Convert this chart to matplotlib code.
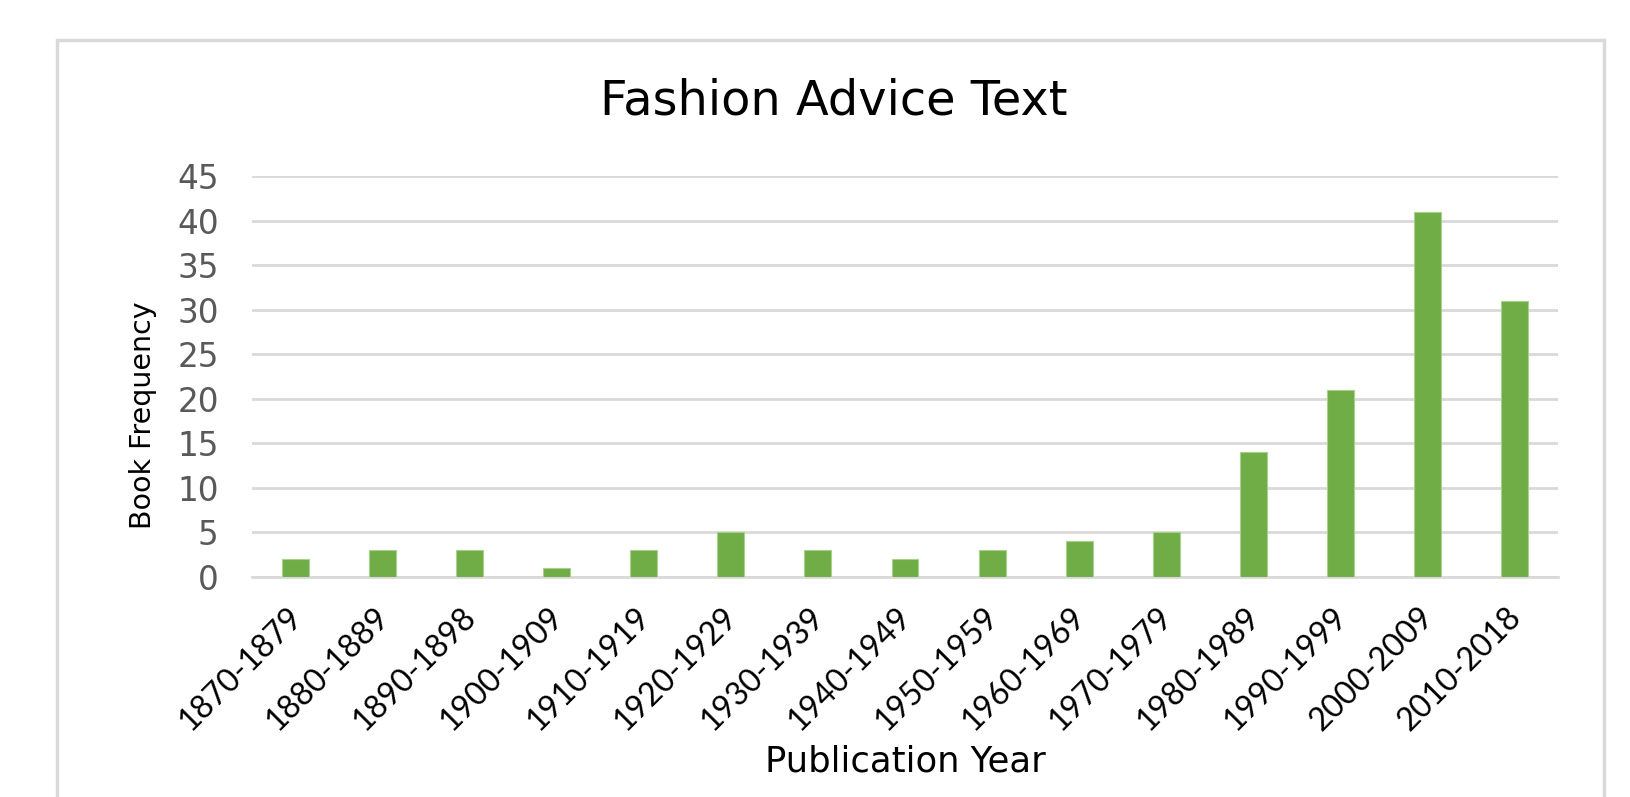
import matplotlib
matplotlib.use("Agg")
import matplotlib.pyplot as plt
from matplotlib.patches import Rectangle
from matplotlib.transforms import ScaledTranslation

categories = ["1870-1879", "1880-1889", "1890-1898", "1900-1909", "1910-1919",
              "1920-1929", "1930-1939", "1940-1949", "1950-1959", "1960-1969",
              "1970-1979", "1980-1989", "1990-1999", "2000-2009", "2010-2018"]
values = [2, 3, 3, 1, 3, 5, 3, 2, 3, 4, 5, 14, 21, 41, 31]
yticks = [0, 5, 10, 15, 20, 25, 30, 35, 40, 45]

W, H = 1631, 797
fig = plt.figure(figsize=(W / 100, H / 100), dpi=100)
fig.patch.set_facecolor("white")

# outer chart border
fig.patches.append(Rectangle((57 / W, -0.05), (1604 - 57) / W, 1.05 - 40 / H,
                             transform=fig.transFigure, fill=False,
                             edgecolor="#d9d9d9", linewidth=2.5))

ax = fig.add_axes([252 / W, 1 - 577 / H, (1558 - 252) / W, (577 - 176) / H])
x = list(range(len(categories)))
ax.bar(x, values, width=0.31, color="#70AD47", edgecolor="#A9D18E",
       linewidth=0.8, zorder=3)
ax.set_xlim(-0.5, len(categories) - 0.5)
ax.set_ylim(0, 45)
ax.set_yticks(yticks)
ax.set_yticklabels([str(t) for t in yticks], fontfamily="DejaVu Sans",
                   fontsize=23.5, color="#595959")
ax.set_xticks(x)
ax.set_xticklabels([])
ax.tick_params(axis="y", length=0, pad=24)
ax.tick_params(axis="x", length=0)

# category labels, rotated 45 deg, positioned on the x scale
offset = ScaledTranslation(-9 / 100, -25 / 100, fig.dpi_scale_trans)
for xi, lab in zip(x, categories):
    ax.text(xi, 0, lab, transform=ax.get_xaxis_transform() + offset,
            rotation=45, ha="right", va="top", rotation_mode="anchor",
            fontfamily="Lato", fontsize=23, color="black", clip_on=False)

ax.grid(axis="y", color="#d9d9d9", linewidth=2, zorder=0)
for s in ["top", "right", "left"]:
    ax.spines[s].set_visible(False)
ax.spines["bottom"].set_color("#d9d9d9")
ax.spines["bottom"].set_linewidth(2)

ax.set_ylabel("Book Frequency", fontfamily="DejaVu Sans", fontsize=20.5, color="black")
ax.yaxis.set_label_coords((143 - 252) / (1558 - 252), (577 - 415) / (577 - 176))
ax.set_xlabel("Publication Year", fontfamily="DejaVu Sans", fontsize=25.5, color="black")
ax.xaxis.set_label_coords(0.5, -(762 - 577) / (577 - 176))
ax.xaxis.label.set_va("center")
ax.yaxis.label.set_va("center")

fig.text(834 / W, 1 - 101 / H, "Fashion Advice Text", ha="center", va="center",
         fontfamily="DejaVu Sans", fontsize=34.5, color="black")

fig.savefig("out.png", dpi=100, facecolor="white")
